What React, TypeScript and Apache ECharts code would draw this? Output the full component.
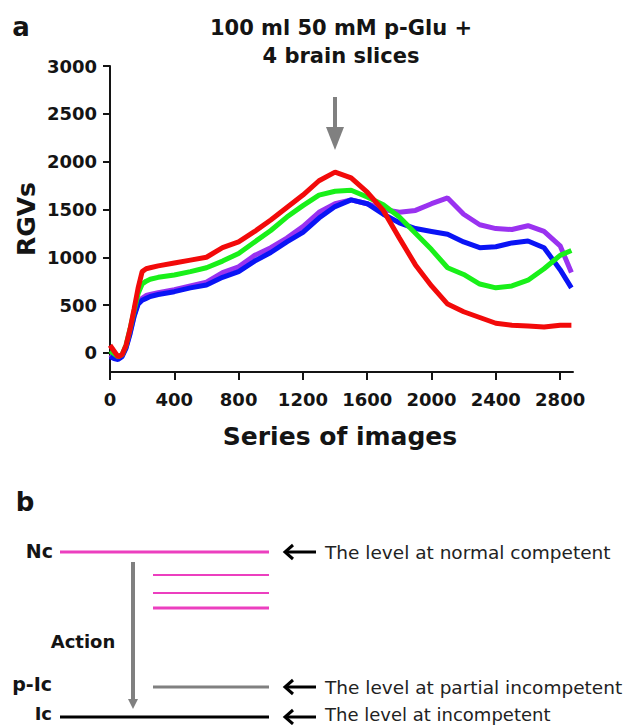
import { useEffect, useRef } from "react";
import * as echarts from "echarts";

const xs = [0, 25, 50, 75, 100, 125, 150, 175, 200, 225, 250, 300, 400, 500, 600, 700, 800, 900, 1000, 1100, 1200, 1300, 1400, 1500, 1600, 1700, 1800, 1900, 2000, 2100, 2200, 2300, 2400, 2500, 2600, 2700, 2800, 2870];
const red = [80, 20, -40, -20, 80, 250, 460, 680, 850, 880, 890, 910, 940, 970, 1000, 1100, 1160, 1270, 1390, 1520, 1650, 1800, 1890, 1830, 1680, 1490, 1200, 920, 700, 510, 430, 370, 310, 290, 280, 270, 290, 290];
const green = [20, -10, -40, -20, 80, 250, 440, 620, 720, 750, 770, 790, 815, 850, 890, 960, 1040, 1160, 1280, 1420, 1540, 1650, 1690, 1700, 1630, 1550, 1420, 1250, 1080, 890, 820, 720, 680, 700, 760, 880, 1020, 1070];
const blue = [-40, -60, -70, -40, 50, 200, 380, 510, 550, 570, 590, 610, 640, 680, 710, 790, 850, 960, 1050, 1160, 1260, 1410, 1530, 1600, 1560, 1450, 1360, 1300, 1270, 1240, 1160, 1100, 1110, 1150, 1170, 1100, 870, 680];
const purple = [-20, -50, -60, -30, 60, 210, 390, 530, 570, 600, 610, 630, 660, 700, 740, 840, 900, 1020, 1100, 1200, 1320, 1470, 1560, 1600, 1560, 1500, 1470, 1490, 1560, 1620, 1450, 1340, 1300, 1290, 1330, 1270, 1120, 840];

const xTicks = [0, 400, 800, 1200, 1600, 2000, 2400, 2800];
const yTicks = [0, 500, 1000, 1500, 2000, 2500, 3000];

const titleLines = ["100 ml 50 mM p-Glu +", "4 brain slices"];
const levelTexts = ["The level at normal competent", "The level at partial incompetent", "The level at incompetent"];

const FONT = "'DejaVu Sans', 'Liberation Sans', Arial, sans-serif";
const INK = "#141414";
const PINK = "#ec3fbf";
const GRAY = "#808080";

function leftArrow(y: number) {
  return [
    { type: "line", shape: { x1: 285, y1: y, x2: 316, y2: y }, style: { stroke: "#000", lineWidth: 3 } },
    { type: "polyline", shape: { points: [[293, y - 7], [285, y], [293, y + 7]] }, style: { stroke: "#000", lineWidth: 3, fill: "none" } },
  ];
}

export default function App() {
  const ref = useRef<HTMLDivElement>(null);
  useEffect(() => {
    document.body.style.margin = "0";
    const chart = echarts.init(ref.current!, null, { renderer: "svg" });
    const mk = (name: string, vals: number[], color: string) => ({
      name,
      type: "line",
      showSymbol: false,
      data: xs.map((x, i) => [x, vals[i]]),
      lineStyle: { color, width: 5 },
      itemStyle: { color },
    });
    const labelStyle = { fontFamily: FONT, fontWeight: "bold", fontSize: 18, color: INK, formatter: (v: number) => String(v) };
    chart.setOption({
      animation: false,
      grid: { left: 110, top: 66, width: 463, height: 306 },
      xAxis: {
        type: "value",
        min: 0,
        max: 2880,
        axisLine: { onZero: false, lineStyle: { color: INK, width: 2 } },
        axisTick: { show: true, length: 8, lineStyle: { color: INK, width: 2 }, customValues: xTicks },
        axisLabel: { ...labelStyle, margin: 18, customValues: xTicks },
        splitLine: { show: false },
      },
      yAxis: {
        type: "value",
        min: -200,
        max: 3000,
        axisLine: { show: true, onZero: false, lineStyle: { color: INK, width: 2 } },
        axisTick: { show: true, length: 7, lineStyle: { color: INK, width: 2 }, customValues: yTicks },
        axisLabel: { ...labelStyle, margin: 13, customValues: yTicks },
        splitLine: { show: false },
      },
      series: [mk("purple", purple, "#9a32f0"), mk("blue", blue, "#0a14f5"), mk("green", green, "#19f019"), mk("red", red, "#f20a0a")],
      graphic: [
        { type: "text", x: 21, y: 27, style: { text: "a", font: `bold 26px ${FONT}`, fill: INK, align: "center", verticalAlign: "middle" } },
        { type: "text", x: 341, y: 28, style: { text: titleLines[0], font: `bold 21px ${FONT}`, fill: INK, align: "center", verticalAlign: "middle" } },
        { type: "text", x: 341, y: 56, style: { text: titleLines[1], font: `bold 21px ${FONT}`, fill: INK, align: "center", verticalAlign: "middle" } },
        { type: "rect", shape: { x: 333, y: 97, width: 4, height: 32 }, style: { fill: GRAY } },
        { type: "polygon", shape: { points: [[326, 127], [344, 127], [335, 150]] }, style: { fill: GRAY } },
        { type: "text", x: 26, y: 219, rotation: Math.PI / 2, style: { text: "RGVs", font: `bold 25px ${FONT}`, fill: INK, align: "center", verticalAlign: "middle" } },
        { type: "text", x: 340, y: 436, style: { text: "Series of images", font: `bold 25px ${FONT}`, fill: INK, align: "center", verticalAlign: "middle" } },
        { type: "text", x: 25, y: 502, style: { text: "b", font: `bold 26px ${FONT}`, fill: INK, align: "center", verticalAlign: "middle" } },
        { type: "text", x: 53, y: 551, style: { text: "Nc", font: `bold 19px ${FONT}`, fill: INK, align: "right", verticalAlign: "middle" } },
        { type: "text", x: 83, y: 641, style: { text: "Action", font: `bold 18px ${FONT}`, fill: INK, align: "center", verticalAlign: "middle" } },
        { type: "text", x: 52, y: 684, style: { text: "p-Ic", font: `bold 19px ${FONT}`, fill: INK, align: "right", verticalAlign: "middle" } },
        { type: "text", x: 52, y: 713, style: { text: "Ic", font: `bold 18px ${FONT}`, fill: INK, align: "right", verticalAlign: "middle" } },
        { type: "line", shape: { x1: 60, y1: 552, x2: 269, y2: 552 }, style: { stroke: PINK, lineWidth: 3 } },
        { type: "line", shape: { x1: 153, y1: 575, x2: 269, y2: 575 }, style: { stroke: PINK, lineWidth: 2 } },
        { type: "line", shape: { x1: 153, y1: 593, x2: 269, y2: 593 }, style: { stroke: PINK, lineWidth: 2 } },
        { type: "line", shape: { x1: 153, y1: 608, x2: 269, y2: 608 }, style: { stroke: PINK, lineWidth: 3 } },
        { type: "line", shape: { x1: 153, y1: 687, x2: 269, y2: 687 }, style: { stroke: GRAY, lineWidth: 3 } },
        { type: "line", shape: { x1: 60, y1: 717, x2: 269, y2: 717 }, style: { stroke: "#000", lineWidth: 3 } },
        { type: "rect", shape: { x: 131, y: 562, width: 4, height: 138 }, style: { fill: GRAY } },
        { type: "polygon", shape: { points: [[128, 699], [138, 699], [133, 709]] }, style: { fill: GRAY } },
        ...leftArrow(552),
        ...leftArrow(687),
        ...leftArrow(717),
        { type: "text", x: 325, y: 552, style: { text: levelTexts[0], font: `18.5px ${FONT}`, fill: "#222", align: "left", verticalAlign: "middle" } },
        { type: "text", x: 325, y: 687, style: { text: levelTexts[1], font: `18.5px ${FONT}`, fill: "#222", align: "left", verticalAlign: "middle" } },
        { type: "text", x: 325, y: 714, style: { text: levelTexts[2], font: `18px ${FONT}`, fill: "#222", align: "left", verticalAlign: "middle" } },
      ],
    });
    return () => chart.dispose();
  }, []);
  return <div ref={ref} style={{ width: 628, height: 725 }} />;
}
